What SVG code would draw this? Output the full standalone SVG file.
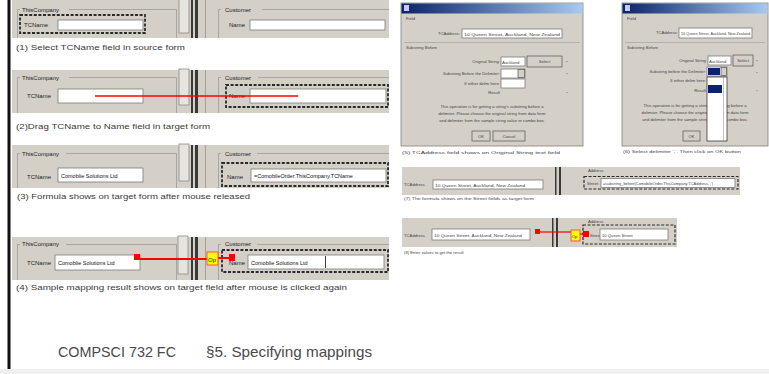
<svg xmlns="http://www.w3.org/2000/svg" width="769" height="374" viewBox="0 0 769 374">
<defs>
<linearGradient id="title" x1="0" y1="0" x2="1" y2="0">
<stop offset="0" stop-color="#0a246a"/><stop offset="1" stop-color="#a6caf0"/>
</linearGradient>
<style>
text{font-family:"Liberation Sans",Arial,sans-serif;fill:#222}
.panel{fill:#d4d0c8}
.etch{fill:none;stroke:#9a9a9a;stroke-width:0.8}
.lbl{font-size:6px}
.cap{font-size:8px;fill:#3a3a3a}
.inp{fill:#fff;stroke:#7a7a7a;stroke-width:0.8}
.dash{fill:none;stroke:#2a2a2a;stroke-width:1.8;stroke-dasharray:3 1.6}
.sb{fill:#e6e4de;stroke:#8a8a8a;stroke-width:0.8}
.dk{fill:#3a3a3a}
.fld{font-size:5.5px;fill:#111}
.red{stroke:#ff0000;fill:none}
.rsq{fill:#ff0000}
.op{fill:#ffff00;stroke:#ff5050;stroke-width:1}
.dlg{fill:#d4d0c8;stroke:#808080;stroke-width:0.8}
.tiny{font-size:4.2px;fill:#444}
.btn{fill:#d4d0c8;stroke:#555;stroke-width:0.7}
.foot{font-size:15px;fill:#4a4a4a}
</style>
</defs>
<rect x="0" y="0" width="769" height="374" fill="#ffffff"/>
<rect x="7.5" y="0" width="3" height="369" fill="#111"/>
<rect x="0" y="369" width="769" height="5" fill="#efefef"/>

<g id="panel1">
<rect class="panel" x="12" y="0" width="377" height="38"/>
<path class="etch" d="M20,9.5H17.5V38M69,9.5H176.5V38M221,9.5H218.5V38M262,9.5H389"/>
<text class="lbl" x="22" y="12">ThisCompany</text>
<rect class="dash" x="20" y="15" width="125" height="18"/>
<text class="lbl" x="24" y="27">TCName</text>
<rect class="inp" x="58" y="20" width="85" height="10"/>
<rect class="sb" x="179" y="-1" width="10" height="34"/>
<rect class="dk" x="191" y="0" width="2" height="38"/>
<rect class="dk" x="195" y="0" width="3" height="38"/>
<line x1="205.5" y1="0" x2="205.5" y2="38" stroke="#a0a0a0"/>
<text class="lbl" x="225" y="12">Customer</text>
<text class="lbl" x="229" y="27">Name</text>
<rect class="inp" x="250" y="20" width="135" height="10"/>
<text class="cap" x="16" y="50" textLength="169" lengthAdjust="spacingAndGlyphs">(1) Select TCName field in source form</text>
</g>

<g id="panel2">
<rect class="panel" x="12" y="70" width="377" height="43"/>
<path class="etch" d="M20,77.5H17.5V113M69,77.5H176.5V113M221,77.5H218.5V113M258,77.5H389"/>
<text class="lbl" x="22" y="80">ThisCompany</text>
<text class="lbl" x="27" y="98">TCName</text>
<rect class="inp" x="58" y="89" width="85" height="14"/>
<rect class="sb" x="179" y="69" width="10" height="36"/>
<rect class="dk" x="191" y="70" width="2" height="43"/>
<rect class="dk" x="195" y="70" width="3" height="43"/>
<line x1="205.5" y1="70" x2="205.5" y2="113" stroke="#a0a0a0"/>
<text class="lbl" x="225" y="80">Customer</text>
<rect class="dash" x="226" y="85" width="162" height="22"/>
<text class="lbl" x="229" y="98">Name</text>
<rect class="inp" x="250" y="89" width="136" height="14"/>
<text class="cap" x="16" y="129" textLength="194" lengthAdjust="spacingAndGlyphs">(2)Drag TCName to Name field in target form</text>
</g>

<g id="panel3">
<rect class="panel" x="12" y="145" width="377" height="43"/>
<path class="etch" d="M20,153.5H17.5V188M66,153.5H176.5V188M221,153.5H218.5V188M257,153.5H389"/>
<text class="lbl" x="22" y="156">ThisCompany</text>
<text class="lbl" x="27" y="179">TCName</text>
<rect class="inp" x="58" y="168" width="85" height="14"/>
<text class="fld" x="61" y="178">Comoblie Solutions Ltd</text>
<rect class="sb" x="179" y="144" width="10" height="37"/>
<rect class="dk" x="191" y="145" width="2" height="43"/>
<rect class="dk" x="195" y="145" width="3" height="43"/>
<line x1="205.5" y1="145" x2="205.5" y2="188" stroke="#a0a0a0"/>
<text class="lbl" x="225" y="156">Customer</text>
<rect class="dash" x="222" y="163" width="166" height="23"/>
<text class="lbl" x="227" y="179">Name</text>
<rect class="inp" x="251" y="169" width="135" height="13"/>
<text class="fld" x="254" y="178">=ComobileOrder.ThisCompany.TCName</text>
<text class="cap" x="17" y="199" textLength="233" lengthAdjust="spacingAndGlyphs">(3) Formula shows on target form after mouse released</text>
</g>

<g id="panel4">
<rect class="panel" x="12" y="237" width="377" height="43"/>
<path class="etch" d="M20,244.5H17.5V280M66,244.5H176.5V280M221,244.5H218.5V280M257,244.5H389"/>
<text class="lbl" x="22" y="246">ThisCompany</text>
<text class="lbl" x="27" y="265">TCName</text>
<rect class="inp" x="55" y="255" width="85" height="15"/>
<text class="fld" x="58" y="265">Comoblie Solutions Ltd</text>
<rect class="sb" x="178" y="236" width="10" height="38"/>
<rect class="dk" x="191" y="237" width="2" height="43"/>
<rect class="dk" x="195" y="237" width="3" height="43"/>
<line x1="205.5" y1="237" x2="205.5" y2="280" stroke="#a0a0a0"/>
<text class="lbl" x="225" y="246">Customer</text>
<rect class="dash" x="222" y="250" width="166" height="22"/>
<text class="lbl" x="229" y="265">Name</text>
<rect class="inp" x="248" y="255" width="136" height="14"/>
<text class="fld" x="251" y="265">Comoblie Solutions Ltd</text>
<line x1="325.5" y1="256" x2="325.5" y2="268" stroke="#111" stroke-width="0.8"/>
<text class="cap" x="16" y="290" textLength="331" lengthAdjust="spacingAndGlyphs">(4) Sample mapping result shows on target field after mouse is clicked again</text>
</g>

<g id="dialog5">
<rect class="dlg" x="401" y="3" width="182" height="143"/>
<rect x="401.5" y="3.5" width="181" height="10" fill="url(#title)"/>
<rect x="404" y="5" width="5" height="6" fill="#c8c8ff"/>
<text class="tiny" x="406" y="20">Field</text>
<text class="tiny" x="460" y="35" text-anchor="end">TCAddress:</text>
<rect class="inp" x="462" y="29" width="100" height="9"/>
<text class="tiny" x="464" y="35.5" textLength="96" lengthAdjust="spacingAndGlyphs">10 Queen Street, Auckland, New Zealand</text>
<line x1="404" y1="42.5" x2="580" y2="42.5" stroke="#9a9a9a" stroke-width="0.6"/>
<text class="tiny" x="406" y="49">Substring Before</text>
<text class="tiny" x="500" y="63" text-anchor="end">Original String:</text>
<rect class="inp" x="501" y="57" width="24" height="9"/>
<text class="tiny" x="502" y="63.5">Auckland</text>
<rect class="btn" x="527" y="56" width="35" height="11"/>
<text class="tiny" x="544.5" y="63" text-anchor="middle">Select</text>
<text class="tiny" x="566" y="64">*</text>
<text class="tiny" x="500" y="75" text-anchor="end">Substring Before the Delimiter:</text>
<rect class="inp" x="501" y="69" width="24" height="9"/>
<rect class="btn" x="518" y="69.5" width="6.5" height="8"/>
<text class="tiny" x="566" y="76">*</text>
<text class="tiny" x="500" y="85" text-anchor="end">If either delim here:</text>
<rect class="inp" x="501" y="79" width="24" height="9"/>
<text class="tiny" x="500" y="94" text-anchor="end">Result</text>
<text class="tiny" x="566" y="95">*</text>
<text class="tiny" x="492" y="108" text-anchor="middle">This operation is for getting a string's substring before a</text>
<text class="tiny" x="492" y="115" text-anchor="middle">delimiter. Please choose the original string from data form</text>
<text class="tiny" x="492" y="122" text-anchor="middle">and delimiter from the sample string value or combo box.</text>
<rect class="btn" x="472" y="131" width="18" height="10"/>
<text class="tiny" x="481" y="137.5" text-anchor="middle">OK</text>
<rect class="btn" x="493" y="131" width="32" height="10"/>
<text class="tiny" x="509" y="137.5" text-anchor="middle">Cancel</text>
<text class="tiny" x="402" y="154" textLength="158" lengthAdjust="spacingAndGlyphs">(5) TCAddress field shows on Original String text field</text>
</g>

<g id="dialog6">
<rect class="dlg" x="622" y="3" width="146" height="143"/>
<rect x="622.5" y="3.5" width="145" height="10" fill="url(#title)"/>
<rect x="625" y="5" width="5" height="6" fill="#c8c8ff"/>
<text class="tiny" x="627" y="20">Field</text>
<text class="tiny" x="678" y="34" text-anchor="end">TCAddress:</text>
<rect class="inp" x="679" y="28" width="73" height="10"/>
<text class="tiny" x="681" y="34.5" textLength="69" lengthAdjust="spacingAndGlyphs">10 Queen Street, Auckland, New Zealand</text>
<line x1="625" y1="42.5" x2="765" y2="42.5" stroke="#9a9a9a" stroke-width="0.6"/>
<text class="tiny" x="627" y="49">Substring Before</text>
<text class="tiny" x="707" y="62" text-anchor="end">Original String:</text>
<rect class="inp" x="708" y="56" width="23" height="9"/>
<text class="tiny" x="709" y="62.5">Auckland</text>
<rect class="btn" x="733" y="55" width="20" height="11"/>
<text class="tiny" x="743" y="62" text-anchor="middle">Select</text>
<text class="tiny" x="756" y="63">*</text>
<text class="tiny" x="706" y="73" text-anchor="end">Substring before the Delimiter:</text>
<rect class="inp" x="707" y="67" width="20" height="9"/>
<rect x="708" y="68" width="12" height="7" fill="#0a246a"/>
<rect class="btn" x="721" y="67.5" width="5.5" height="8"/>
<text class="tiny" x="756" y="75">*</text>
<text class="tiny" x="706" y="82" text-anchor="end">If either delim here:</text>
<text class="tiny" x="706" y="92" text-anchor="end">Result</text>
<text class="tiny" x="756" y="93">*</text>
<text class="tiny" x="695" y="107" text-anchor="middle">This operation is for getting a string's substring before a</text>
<text class="tiny" x="695" y="114" text-anchor="middle">delimiter. Please choose the original string from data form</text>
<text class="tiny" x="695" y="121" text-anchor="middle">and delimiter from the sample string value or combo box.</text>
<rect class="btn" x="683" y="131" width="17" height="10"/>
<text class="tiny" x="691.5" y="137.5" text-anchor="middle">OK</text>
<rect x="707" y="77" width="20" height="64" fill="#fff" stroke="#222" stroke-width="0.7"/>
<rect x="708" y="85" width="14" height="8" fill="#0a246a"/>
<line x1="723.5" y1="77" x2="723.5" y2="141" stroke="#888" stroke-width="0.5"/>
<text class="tiny" x="623" y="153" textLength="118" lengthAdjust="spacingAndGlyphs">(6) Select delimiter ','. Then click on OK button</text>
</g>

<g id="panel7">
<rect class="panel" x="402" y="167" width="338" height="28"/>
<text class="tiny" x="404" y="186">TCAddress</text>
<rect class="inp" x="433" y="180" width="110" height="9"/>
<text class="tiny" x="435" y="186.5" textLength="90" lengthAdjust="spacingAndGlyphs">10 Queen Street, Auckland, New Zealand</text>
<rect class="dk" x="555" y="167" width="1.5" height="28"/>
<rect class="dk" x="559" y="167" width="2" height="28"/>
<text class="tiny" x="588" y="172">Address</text>
<rect class="dash" x="584" y="176.5" width="154" height="12.5" style="stroke-width:1.2"/>
<text class="tiny" x="587" y="185">Street</text>
<rect class="inp" x="601" y="178.5" width="134" height="9"/>
<text class="tiny" x="603" y="185" textLength="110" lengthAdjust="spacingAndGlyphs">=substring_before(ComobileOrder.ThisCompany.TCAddress,',')</text>
<text class="tiny" x="404" y="200" textLength="130" lengthAdjust="spacingAndGlyphs">(7) The formula shows on the Street fields as target form</text>
</g>

<g id="panel8">
<rect class="panel" x="402" y="218" width="275" height="29"/>
<text class="tiny" x="404" y="237">TCAddress</text>
<rect class="inp" x="432" y="229" width="98" height="11"/>
<text class="tiny" x="434" y="236.5" textLength="88" lengthAdjust="spacingAndGlyphs">10 Queen Street, Auckland, New Zealand</text>
<rect class="dk" x="552" y="218" width="1.5" height="29"/>
<rect class="dk" x="556" y="218" width="2" height="29"/>
<text class="tiny" x="588" y="223">Address</text>
<rect class="dash" x="583" y="225" width="92" height="19" style="stroke-width:1.2"/>
<text class="tiny" x="590" y="237">Street</text>
<rect class="inp" x="600" y="229" width="68" height="11"/>
<text class="tiny" x="602" y="236.5">10 Queen Street</text>
<text class="tiny" x="404" y="254">(8) Enter values to get the result</text>
</g>

<g id="connectors">
<line class="red" x1="95" y1="96" x2="298" y2="96" stroke-width="1.5"/>
<line class="red" x1="140" y1="259" x2="207" y2="259" stroke-width="2"/>
<line class="red" x1="218" y1="258" x2="229" y2="258" stroke-width="2"/>
<rect class="rsq" x="134" y="254" width="6" height="6"/>
<rect class="op" x="207" y="252" width="11" height="13"/>
<text x="208" y="262" style="font-size:6px">Op</text>
<rect class="rsq" x="229" y="254" width="6" height="7"/>
<line class="red" x1="540" y1="232" x2="571" y2="232" stroke-width="1.2"/>
<line class="red" x1="580" y1="234" x2="583" y2="234" stroke-width="1.2"/>
<rect class="rsq" x="535" y="229" width="5" height="5"/>
<rect class="op" x="571" y="230" width="9" height="11"/>
<text x="572" y="238" style="font-size:4px">Op</text>
<rect class="rsq" x="583" y="231" width="6" height="6"/>
</g>

<g id="footer">
<text class="foot" x="58" y="357" textLength="118" lengthAdjust="spacingAndGlyphs">COMPSCI 732 FC</text>
<text class="foot" x="206" y="357" textLength="166" lengthAdjust="spacingAndGlyphs">§5. Specifying mappings</text>
</g>
</svg>
